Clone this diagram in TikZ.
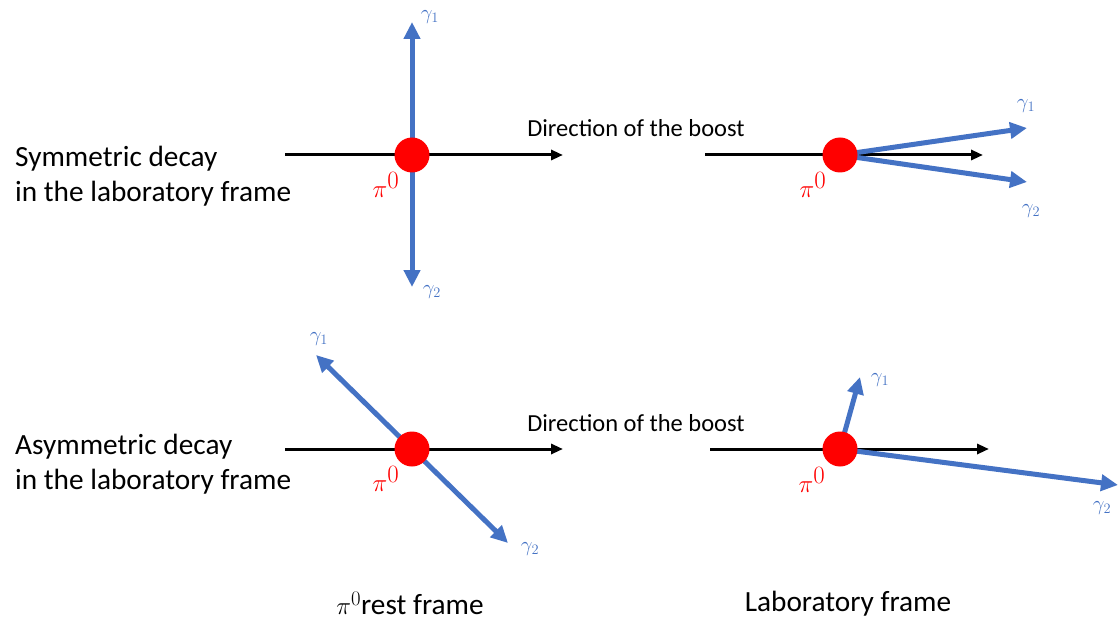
\documentclass[tikz,border=0pt]{standalone}
\usepackage{fontspec}
\setmainfont{Carlito}
\usetikzlibrary{arrows.meta}
\definecolor{phblue}{HTML}{4472C4}

\begin{document}
\begin{tikzpicture}[
  x=1pt, y=-1pt,
  pion/.style={circle, fill=red, minimum size=35pt, inner sep=0pt},
  photon/.style={-{Triangle[length=17pt,width=16pt]}, line width=5pt, draw=phblue},
  boost/.style={-{Triangle[length=12pt,width=10pt]}, line width=3pt},
  txt/.style={font=\fontsize{29.3}{35}\selectfont, align=left, anchor=west, inner sep=0pt},
  dirlbl/.style={font=\fontsize{24.5}{28}\selectfont, inner sep=0pt},
  glbl/.style={text=phblue, font=\fontsize{22}{22}\selectfont, inner sep=0pt},
  pilbl/.style={text=red, font=\fontsize{34}{34}\selectfont, inner sep=0pt}
]
\useasboundingbox (0,0) rectangle (1118,620);

% symmetric decay, rest frame
\coordinate (c1) at (412,155);
\coordinate (b1s) at (285,155);
\coordinate (b1e) at (563,155);
\coordinate (g1u) at (412,22);
\coordinate (g1d) at (412,287);
\draw[boost] (b1s) -- (b1e);
\draw[photon] (c1) -- (g1u);
\draw[photon] (c1) -- (g1d);
\node[pion] (p1) at (c1) {};
\node[glbl] (l1u) at (430,17) {$\gamma_1$};
\node[glbl] (l1d) at (432,292) {$\gamma_2$};
\node[pilbl] (n1) at (386,185) {$\pi^0$};

% symmetric decay, lab frame
\coordinate (c2) at (840,155);
\coordinate (b2s) at (705,155);
\coordinate (b2e) at (983,155);
\coordinate (g2u) at (1027,128);
\coordinate (g2d) at (1027,182);
\draw[boost] (b2s) -- (b2e);
\draw[photon] (c2) -- (g2u);
\draw[photon] (c2) -- (g2d);
\node[pion] (p2) at (c2) {};
\node[glbl] (l2u) at (1026,106) {$\gamma_1$};
\node[glbl] (l2d) at (1031,211) {$\gamma_2$};
\node[pilbl] (n2) at (813,185) {$\pi^0$};

% asymmetric decay, rest frame
\coordinate (c3) at (412,449);
\coordinate (b3s) at (285,449);
\coordinate (b3e) at (563,449);
\coordinate (g3u) at (316,355);
\coordinate (g3d) at (508,543);
\draw[boost] (b3s) -- (b3e);
\draw[photon] (c3) -- (g3u);
\draw[photon] (c3) -- (g3d);
\node[pion] (p3) at (c3) {};
\node[glbl] (l3u) at (319,339) {$\gamma_1$};
\node[glbl] (l3d) at (530,549) {$\gamma_2$};
\node[pilbl] (n3) at (386,479) {$\pi^0$};

% asymmetric decay, lab frame
\coordinate (c4) at (840,449);
\coordinate (b4s) at (710,449);
\coordinate (b4e) at (989,449);
\coordinate (g4u) at (860,377);
\coordinate (g4d) at (1118,485);
\draw[boost] (b4s) -- (b4e);
\draw[photon] (c4) -- (g4u);
\draw[photon] (c4) -- (g4d);
\node[pion] (p4) at (c4) {};
\node[glbl] (l4u) at (880,380) {$\gamma_1$};
\node[glbl] (l4d) at (1102,508) {$\gamma_2$};
\node[pilbl] (n4) at (812,480) {$\pi^0$};

% texts
\node[txt] (sym) at (15,176) {Symmetric decay\\in the laboratory frame};
\node[txt] (asym) at (15,464) {Asymmetric decay\\in the laboratory frame};
\node[dirlbl] (dir1) at (636,128) {Direction of the boost};
\node[dirlbl] (dir2) at (636,423) {Direction of the boost};
\node[txt, anchor=center] (rest) at (410,603) {$\pi^0$rest frame};
\node[txt, anchor=center] (lab) at (848,604) {Laboratory frame};
\end{tikzpicture}
\end{document}
